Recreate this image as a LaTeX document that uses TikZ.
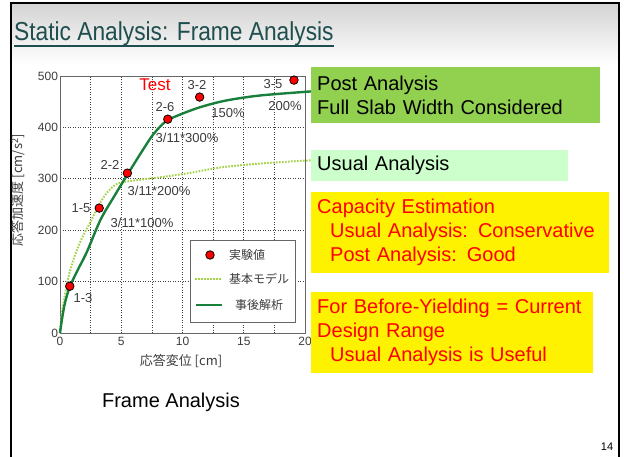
\documentclass[tikz,border=0pt]{standalone}
\usepackage{fontspec}
\setmainfont{Liberation Sans}
\newfontfamily\cjk{Noto Sans CJK JP}
\usetikzlibrary{shapes,positioning}

\definecolor{titleteal}{RGB}{31,78,78}
\definecolor{postgreen}{RGB}{146,208,80}
\definecolor{usualgreen}{RGB}{204,255,204}
\definecolor{curvegreen}{RGB}{25,128,60}
\definecolor{dotgreen}{RGB}{165,210,70}
\definecolor{chartgray}{RGB}{60,60,60}

\begin{document}
\begin{tikzpicture}[x=1pt,y=-1pt,inner sep=0pt]
                \tikzstyle{gridline}=[black!75,line width=0.6pt,dash pattern=on 1pt off 1.5pt]
                \tikzstyle{axisline}=[black!60,line width=0.9pt]
                \tikzstyle{ticklabel}=[text=chartgray,font=\fontsize{12}{14}\selectfont]
                \tikzstyle{datalabel}=[text=chartgray,font=\fontsize{13}{15}\selectfont]
                \tikzstyle{cjklabel}=[text=chartgray,font=\cjk\fontsize{12}{14}\selectfont]
                \tikzstyle{testpt}=[circle,fill=red,draw=black,line width=0.8pt,minimum size=8.5pt]
                \tikzstyle{postline}=[curvegreen,line width=2.4pt]
                \tikzstyle{usualline}=[dotgreen,line width=2pt,dash pattern=on 1.6pt off 1.4pt]
                \tikzstyle{note}=[anchor=north west,align=left,inner xsep=6pt,inner ysep=0pt,font=\fontsize{20}{24}\selectfont]
                \tikzstyle{warn}=[note,fill=yellow,text=red]

                \useasboundingbox (0,0) rectangle (624,457);
                % slide background and frame
                \shade[top color=black!17,bottom color=white] (11,4) rectangle (619,64);
                \draw[line width=2.5pt] (11,457) -- (11,3) -- (619,3) -- (619,457);

                \node[anchor=base west,text=titleteal,font=\fontsize{26}{30}\selectfont] (title) at (14,41) {\scalebox{0.875}[1]{Static Analysis: Frame Analysis}};
                \draw[titleteal,line width=1.3pt] ([yshift=-5pt]title.base west) -- ([yshift=-5pt]title.base east);

                % response chart
                \begin{scope}[shift={(60,333)},x=12.25pt,y=0.514pt]
                \foreach \gx in {2.5,5,...,17.5} \draw[gridline] (\gx,0) -- (\gx,500);
                \foreach \gy in {100,200,300,400} \draw[gridline] (0,\gy) -- (20,\gy);
                \draw[axisline] (0,0) rectangle (20,500);
                \foreach \gx in {0,5,10,15,20} \node[ticklabel,anchor=north] (xt\gx) at (\gx,-8) {\gx};
                \foreach \gy in {0,100,...,500} \node[ticklabel,anchor=east] (yt\gy) at (-0.15,\gy) {\gy};

                \draw[usualline] plot[smooth] coordinates {(0,0) (0.1,30) (0.3,62) (0.7,110) (1.2,150) (1.8,185) (2.4,212) (3.2,250) (3.8,272) (4.4,286) (5,293) (6.5,298) (8.2,303) (10.5,311) (13.1,322) (16.5,330) (20.5,336)};
                \draw[postline] plot[smooth] coordinates {(0,0) (0.15,25) (0.4,58) (0.8,90) (1.5,125) (2.2,158) (3.3,220) (4.4,265) (5.5,308) (6.6,350) (7.6,386) (8.6,411) (9.6,423) (11.4,439) (13.5,452) (16.3,462) (20.5,470)};

                \node[testpt] (p13) at (0.8,91) {};
                \node[testpt] (p15) at (3.2,243) {};
                \node[testpt] (p22) at (5.5,311) {};
                \node[testpt] (p26) at (8.8,416) {};
                \node[testpt] (p32) at (11.4,459) {};
                \node[testpt] (p35) at (19.1,492) {};
                \end{scope}

                \node[text=red,font=\fontsize{17}{19}\selectfont] (test) at (155,85) {Test};
                \node[datalabel] (l32) at (197,85) {3-2};
                \node[datalabel] (l35) at (273,84) {3-5};
                \node[datalabel] (l35-pct) at (285,106) {200\%};
                \node[datalabel] (l32-pct) at (228,113) {150\%};
                \node[datalabel] (l26) at (165,107) {2-6};
                \node[datalabel] (l26-pct) at (187,138) {3/11*300\%};
                \node[datalabel] (l22) at (110,165) {2-2};
                \node[datalabel] (l22-pct) at (159,191) {3/11*200\%};
                \node[datalabel] (l15) at (81,208) {1-5};
                \node[datalabel] (l15-pct) at (142,223) {3/11*100\%};
                \node[datalabel] (l13) at (83,298) {1-3};

                % legend
                \node[draw=black!60,line width=0.9pt,fill=white,anchor=north west,minimum width=105pt,minimum height=82pt] (legend) at (190,240) {};
                \node[testpt] (leg-pt) at (210,255) {};
                \node[cjklabel,anchor=west] (leg-test) at (229,255) {実験値};
                \draw[usualline] (195,279) -- (221,279);
                \node[cjklabel,anchor=west] (leg-usual) at (229,279) {基本モデル};
                \draw[postline] (196,305) -- (222,305);
                \node[cjklabel,anchor=west] (leg-post) at (235,305) {事後解析};

                \node[cjklabel,font=\cjk\fontsize{13}{15}\selectfont] (xlab) at (181,361) {応答変位 [cm]};
                \node[cjklabel,rotate=90,font=\cjk\fontsize{13}{15}\selectfont] (ylab) at (18,190) {応答加速度 [cm/s\textsuperscript{2}]};

                % notes on the right
                \node[note,fill=postgreen,text width=277pt,minimum height=56pt] (post-cl) at (311,67) {Post Analysis\\Full Slab Width Considered};
                \node[note,fill=usualgreen,text width=245pt,minimum height=31pt] (usual-cl) at (311,150) {Usual Analysis};
                \node[warn,text width=286pt,minimum height=81pt] (capacity-cl) at (311,192) {Capacity Estimation\\\hspace*{13pt}Usual Analysis: Conservative\\\hspace*{13pt}Post Analysis: Good};
                \node[warn,text width=270pt,minimum height=81pt] (range-cl) at (311,292) {For Before-Yielding = Current\\Design Range\\\hspace*{13pt}Usual Analysis is Useful};

                \node[font=\fontsize{20}{24}\selectfont] (caption) at (171,402) {Frame Analysis};
                \node[font=\fontsize{11}{13}\selectfont] (pageno) at (607,447) {14};
\end{tikzpicture}
\end{document}
